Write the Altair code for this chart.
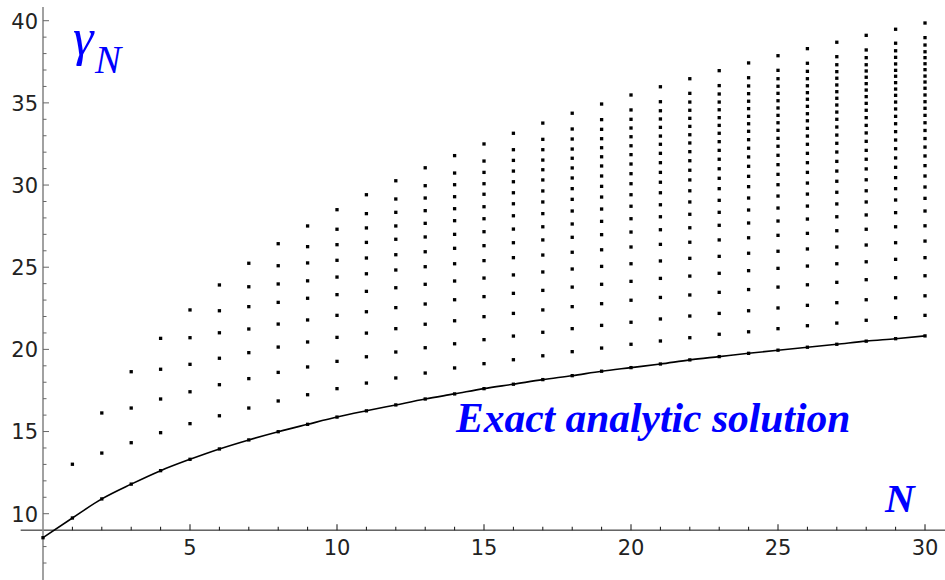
import altair as alt
import pandas as pd

# ---------------- data ----------------
N_CURVE = list(range(0, 31))
CURVE = [8.54, 9.74, 10.90, 11.80, 12.62, 13.31, 13.94, 14.49, 14.99, 15.44,
         15.88, 16.26, 16.62, 16.98, 17.29, 17.61, 17.88, 18.16, 18.40, 18.67,
         18.89, 19.11, 19.36, 19.56, 19.76, 19.95, 20.13, 20.31, 20.50, 20.65, 20.82]

DOTS_N1 = [13.01]
DOTS_N2 = [13.69, 16.13]
DOTS_N3 = [14.32, 16.43, 18.64]
DOTS_N4 = [14.93, 16.98, 18.79, 20.67]
DOTS_N5 = [15.48, 17.42, 19.09, 20.71, 22.40]
DOTS_N6 = [15.96, 17.85, 19.46, 21.01, 22.35, 23.92]
DOTS_N7 = [16.43, 18.22, 19.80, 21.24, 22.60, 23.81, 25.24]
DOTS_N8 = [16.86, 18.60, 20.14, 21.54, 22.86, 23.98, 25.09, 26.43]
DOTS_N9 = [17.24, 18.93, 20.45, 21.79, 23.11, 24.17, 25.26, 26.25, 27.51]
DOTS_N10 = [17.61, 19.27, 20.73, 22.07, 23.33, 24.40, 25.42, 26.37, 27.31, 28.50]
DOTS_N11 = [17.95, 19.55, 20.99, 22.29, 23.53, 24.60, 25.56, 26.51, 27.39, 28.26, 29.41]
DOTS_N12 = [18.26, 19.84, 21.26, 22.54, 23.75, 24.83, 25.76, 26.70, 27.51, 28.34, 29.15, 30.26]
DOTS_N13 = [18.56, 20.10, 21.53, 22.76, 23.96, 25.03, 25.94, 26.84, 27.67, 28.44, 29.21, 29.96, 31.05]
DOTS_N14 = [18.87, 20.34, 21.74, 23.02, 24.16, 25.21, 26.15, 27.00, 27.83, 28.56, 29.29, 30.02,
            30.73, 31.79]
DOTS_N15 = [19.13, 20.59, 21.99, 23.21, 24.34, 25.40, 26.31, 27.16, 27.95, 28.68, 29.44, 30.08,
            30.77, 31.46, 32.50]
DOTS_N16 = [19.37, 20.81, 22.19, 23.41, 24.53, 25.58, 26.49, 27.32, 28.13, 28.86, 29.53, 30.20,
            30.85, 31.50, 32.15, 33.15]
DOTS_N17 = [19.61, 21.04, 22.40, 23.59, 24.71, 25.74, 26.66, 27.46, 28.26, 28.97, 29.64, 30.31,
            30.93, 31.52, 32.15, 32.78, 33.77]
DOTS_N18 = [19.86, 21.26, 22.60, 23.79, 24.89, 25.91, 26.82, 27.63, 28.42, 29.13, 29.78, 30.43,
            31.04, 31.63, 32.19, 32.80, 33.41, 34.37]
DOTS_N19 = [20.08, 21.46, 22.78, 23.96, 25.05, 26.06, 26.98, 27.79, 28.54, 29.27, 29.92, 30.55,
            31.16, 31.72, 32.27, 32.82, 33.39, 33.98, 34.93]
DOTS_N20 = [20.31, 21.65, 22.99, 24.14, 25.21, 26.23, 27.14, 27.95, 28.71, 29.41, 30.08, 30.69,
            31.28, 31.85, 32.39, 32.94, 33.47, 34.00, 34.57, 35.48]
DOTS_N21 = [20.51, 21.85, 23.16, 24.32, 25.38, 26.39, 27.28, 28.07, 28.80, 29.53, 30.17, 30.77,
            31.36, 31.93, 32.48, 32.98, 33.51, 34.02, 34.52, 35.07, 35.98]
DOTS_N22 = [20.71, 22.03, 23.31, 24.46, 25.54, 26.52, 27.40, 28.22, 28.97, 29.65, 30.31, 30.90,
            31.48, 32.03, 32.56, 33.06, 33.57, 34.06, 34.55, 35.05, 35.58, 36.47]
DOTS_N23 = [20.92, 22.19, 23.47, 24.63, 25.66, 26.66, 27.55, 28.34, 29.07, 29.78, 30.41, 30.99,
            31.57, 32.11, 32.64, 33.15, 33.63, 34.10, 34.58, 35.05, 35.54, 36.05, 36.96]
DOTS_N24 = [21.07, 22.35, 23.64, 24.79, 25.85, 26.79, 27.69, 28.48, 29.21, 29.90, 30.53, 31.14,
            31.71, 32.24, 32.76, 33.27, 33.73, 34.18, 34.65, 35.10, 35.56, 36.03, 36.53, 37.43]
DOTS_N25 = [21.26, 22.52, 23.79, 24.93, 25.97, 26.94, 27.81, 28.60, 29.33, 30.02, 30.65, 31.24,
            31.81, 32.36, 32.84, 33.33, 33.79, 34.24, 34.69, 35.13, 35.58, 36.01, 36.47, 36.98,
            37.87]
DOTS_N26 = [21.44, 22.68, 23.93, 25.07, 26.11, 27.06, 27.93, 28.72, 29.45, 30.12, 30.77, 31.36,
            31.93, 32.48, 32.98, 33.45, 33.91, 34.34, 34.79, 35.22, 35.62, 36.04, 36.47, 36.92,
            37.41, 38.30]
DOTS_N27 = [21.60, 22.84, 24.08, 25.21, 26.23, 27.22, 28.07, 28.85, 29.56, 30.23, 30.85, 31.44,
            32.01, 32.54, 33.04, 33.53, 34.00, 34.44, 34.87, 35.28, 35.68, 36.09, 36.50, 36.90,
            37.32, 37.81, 38.69]
DOTS_N28 = [21.77, 23.02, 24.24, 25.33, 26.35, 27.31, 28.18, 28.97, 29.65, 30.32, 30.98, 31.57,
            32.11, 32.66, 33.17, 33.63, 34.10, 34.55, 34.97, 35.38, 35.78, 36.17, 36.56, 36.94,
            37.32, 37.75, 38.22, 39.11]
DOTS_N29 = [21.93, 23.14, 24.36, 25.48, 26.49, 27.46, 28.32, 29.09, 29.78, 30.45, 31.08, 31.65,
            32.21, 32.74, 33.25, 33.73, 34.18, 34.63, 35.05, 35.46, 35.84, 36.23, 36.62, 36.98,
            37.37, 37.77, 38.17, 38.63, 39.48]
DOTS_N30 = [22.07, 23.26, 24.48, 25.58, 26.59, 27.52, 28.42, 29.19, 29.88, 30.55, 31.18, 31.77,
            32.31, 32.83, 33.32, 33.79, 34.24, 34.67, 35.07, 35.48, 35.89, 36.27, 36.63, 37.02,
            37.38, 37.75, 38.11, 38.52, 38.97, 39.86]

X_MAJOR_TICKS = [5, 10, 15, 20, 25, 30]
X_MINOR_TICKS = [1, 2, 3, 4, 6, 7, 8, 9, 11, 12, 13, 14, 16, 17, 18, 19,
                 21, 22, 23, 24, 26, 27, 28, 29]
Y_MAJOR_TICKS = [10, 15, 20, 25, 30, 35, 40]
Y_MINOR_TICKS = [7, 8, 11, 12, 13, 14, 16, 17, 18, 19, 21, 22, 23, 24,
                 26, 27, 28, 29, 31, 32, 33, 34, 36, 37, 38, 39]

AXES_ORIGIN_X = 0
AXES_ORIGIN_Y = 9
X_AXIS_EXTENT = [-0.76, 30.68]
Y_AXIS_EXTENT = [5.966, 40.83]

X_DOMAIN = [-1.4626, 30.680]
Y_DOMAIN = [5.966, 41.260]

# ---------------- build tables ----------------
all_dots = [DOTS_N1, DOTS_N2, DOTS_N3, DOTS_N4, DOTS_N5, DOTS_N6, DOTS_N7, DOTS_N8,
            DOTS_N9, DOTS_N10, DOTS_N11, DOTS_N12, DOTS_N13, DOTS_N14, DOTS_N15,
            DOTS_N16, DOTS_N17, DOTS_N18, DOTS_N19, DOTS_N20, DOTS_N21, DOTS_N22,
            DOTS_N23, DOTS_N24, DOTS_N25, DOTS_N26, DOTS_N27, DOTS_N28, DOTS_N29,
            DOTS_N30]
rows = []
for i, col in enumerate(all_dots):
    for v in col:
        rows.append({"N": i + 1, "g": v})
dots_df = pd.DataFrame(rows)
curve_df = pd.DataFrame({"N": N_CURVE, "g": CURVE})

xs = alt.Scale(domain=X_DOMAIN, nice=False, zero=False)
ys = alt.Scale(domain=Y_DOMAIN, nice=False, zero=False)

X = lambda f="N": alt.X(f, type="quantitative", scale=xs, axis=None)
Y = lambda f="g": alt.Y(f, type="quantitative", scale=ys, axis=None)

curve_line = alt.Chart(curve_df).mark_line(
    color="black", strokeWidth=1.6, interpolate="monotone"
).encode(x=X(), y=Y())

curve_pts = alt.Chart(curve_df).mark_square(
    color="black", size=11, opacity=1
).encode(x=X(), y=Y())

dots = alt.Chart(dots_df).mark_square(
    color="black", size=11, opacity=1
).encode(x=X(), y=Y())

# axes drawn Mathematica-style, crossing at (0, 9)
xaxis_df = pd.DataFrame({"x1": [X_AXIS_EXTENT[0]], "x2": [X_AXIS_EXTENT[1]], "y": [AXES_ORIGIN_Y]})
yaxis_df = pd.DataFrame({"y1": [Y_AXIS_EXTENT[0]], "y2": [Y_AXIS_EXTENT[1]], "x": [AXES_ORIGIN_X]})

x_axis_line = alt.Chart(xaxis_df).mark_rule(color="#111111", strokeWidth=1).encode(
    x=X("x1"), x2="x2", y=Y("y"))
y_axis_line = alt.Chart(yaxis_df).mark_rule(color="#8a8a8a", strokeWidth=1.6).encode(
    y=Y("y1"), y2="y2", x=X("x"))

xmaj_df = pd.DataFrame({"N": X_MAJOR_TICKS, "g": [AXES_ORIGIN_Y] * len(X_MAJOR_TICKS),
                        "lab": [str(t) for t in X_MAJOR_TICKS]})
xmin_df = pd.DataFrame({"N": X_MINOR_TICKS, "g": [AXES_ORIGIN_Y] * len(X_MINOR_TICKS)})
ymaj_df = pd.DataFrame({"N": [AXES_ORIGIN_X] * len(Y_MAJOR_TICKS), "g": Y_MAJOR_TICKS,
                        "lab": [str(t) for t in Y_MAJOR_TICKS]})
ymin_df = pd.DataFrame({"N": [AXES_ORIGIN_X] * len(Y_MINOR_TICKS), "g": Y_MINOR_TICKS})

x_major_ticks = alt.Chart(xmaj_df).mark_tick(
    orient="vertical", size=6, thickness=1, yOffset=-3, color="#111111", opacity=1
).encode(x=X(), y=Y())
x_minor_ticks = alt.Chart(xmin_df).mark_tick(
    orient="vertical", size=3.5, thickness=1, yOffset=-1.75, color="#111111", opacity=1
).encode(x=X(), y=Y())
y_major_ticks = alt.Chart(ymaj_df).mark_tick(
    orient="horizontal", size=6, thickness=1, xOffset=3, color="#666666", opacity=1
).encode(x=X(), y=Y())
y_minor_ticks = alt.Chart(ymin_df).mark_tick(
    orient="horizontal", size=3.5, thickness=1, xOffset=1.75, color="#666666", opacity=1
).encode(x=X(), y=Y())

x_labels = alt.Chart(xmaj_df).mark_text(
    font="DejaVu Sans", fontSize=21, color="#222222", align="center",
    baseline="alphabetic", dy=25
).encode(x=X(), y=Y(), text="lab:N")
y_labels = alt.Chart(ymaj_df).mark_text(
    font="DejaVu Sans", fontSize=21, color="#222222", align="right",
    baseline="alphabetic", dx=-5, dy=7.8
).encode(x=X(), y=Y(), text="lab:N")

one = pd.DataFrame({"k": [0]})
BLUE = "#0000ff"
gamma_txt = alt.Chart(one).mark_text(
    text="γ", font="Liberation Serif", fontStyle="italic", fontSize=52,
    color=BLUE, align="left", baseline="alphabetic"
).encode(x=alt.value(73), y=alt.value(55))
gamma_sub = alt.Chart(one).mark_text(
    text="N", font="Liberation Serif", fontStyle="italic", fontSize=39,
    color=BLUE, align="left", baseline="alphabetic"
).encode(x=alt.value(95), y=alt.value(73))
exact_txt = alt.Chart(one).mark_text(
    text="Exact analytic solution", font="Liberation Serif", fontStyle="italic",
    fontWeight="bold", fontSize=41.5, color=BLUE, align="left", baseline="alphabetic"
).encode(x=alt.value(456), y=alt.value(432))
n_txt = alt.Chart(one).mark_text(
    text="N", font="Liberation Serif", fontStyle="italic",
    fontWeight="bold", fontSize=41, color=BLUE, align="left", baseline="alphabetic"
).encode(x=alt.value(885), y=alt.value(512))

chart = alt.layer(
    x_axis_line, y_axis_line,
    x_minor_ticks, x_major_ticks, y_minor_ticks, y_major_ticks,
    x_labels, y_labels,
    curve_line, curve_pts, dots,
    gamma_txt, gamma_sub, exact_txt, n_txt,
).properties(
    width=945, height=580, padding=0,
    autosize=alt.AutoSizeParams(type="none"),
    background="white",
).configure_view(stroke=None)

chart.save("out.html", embed_options={"renderer": "svg", "actions": False})
